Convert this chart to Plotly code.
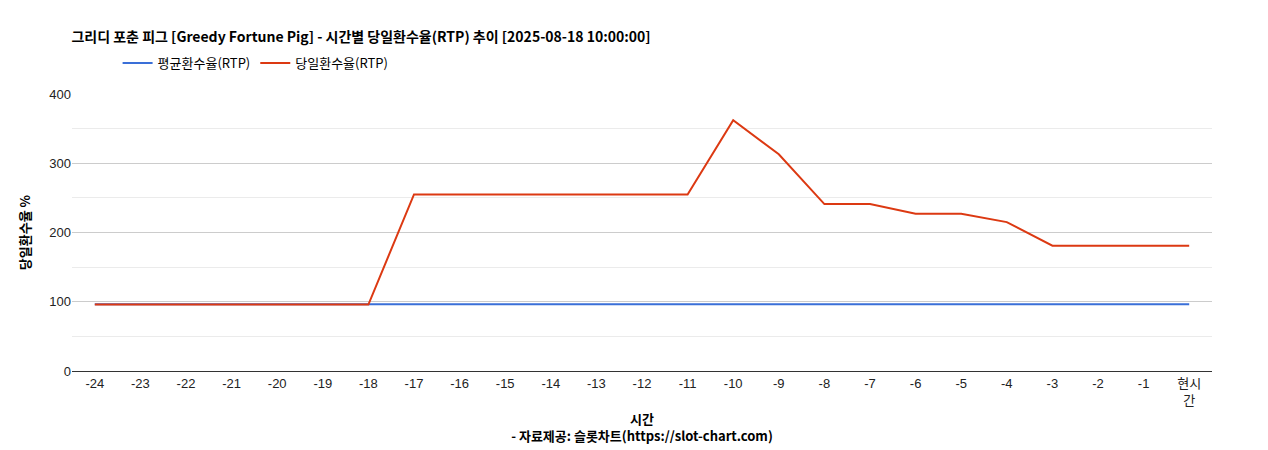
import plotly.graph_objects as go

hours = [str(i) for i in range(-24, 0)] + ["현시<br>간"]
avg_rtp = [96.5] * 25
day_rtp = [96, 96, 96, 96, 96, 96, 96, 255, 255, 255, 255, 255, 255, 255,
           362, 313, 241, 241, 227, 227, 215, 181, 181, 181, 181]

fig = go.Figure()
fig.add_trace(go.Scatter(x=hours, y=avg_rtp, mode="lines", name="평균환수율(RTP)",
                         line=dict(color="#3a6fd8", width=2)))
fig.add_trace(go.Scatter(x=hours, y=day_rtp, mode="lines", name="당일환수율(RTP)",
                         line=dict(color="#dc3912", width=2)))
font = "Liberation Sans, Noto Sans CJK KR"
fig.update_layout(
    width=1268, height=450, margin=dict(l=64, r=64, t=86, b=87, autoexpand=False),
    plot_bgcolor="white", paper_bgcolor="white",
    font=dict(family=font, size=13, color="#222"),
    title=dict(text="<b>그리디 포춘 피그 [Greedy Fortune Pig] - 시간별 당일환수율(RTP) 추이 [2025-08-18 10:00:00]</b>",
               x=0.05, xanchor="left", y=0.935, yanchor="middle",
               font=dict(family="Noto Sans CJK KR", size=14, color="#000")),
    legend=dict(orientation="h", x=0.04, y=1.112, xanchor="left", yanchor="middle",
                font=dict(family="Noto Sans CJK KR", size=13, color="#000")),
    showlegend=True,
)
fig.update_xaxes(type="category", showgrid=False, showline=True, linecolor="#333",
                 ticks="", range=[-0.5, 24.5], automargin=False,
                 title=dict(text="<b>시간</b><br><b>- 자료제공: 슬롯차트(https://slot-chart.com)</b>",
                            font=dict(family="Noto Sans CJK KR", size=13, color="#000"), standoff=8))
fig.update_yaxes(range=[0, 400], dtick=100, gridcolor="#cccccc", zeroline=False, automargin=False,
                 ticks="", minor=dict(dtick=50, gridcolor="#ebebeb", showgrid=True),
                 title=dict(text="<b>당일환수율 %</b>", font=dict(family="Noto Sans CJK KR", size=13, color="#000")))
fig.write_html("out.html")
